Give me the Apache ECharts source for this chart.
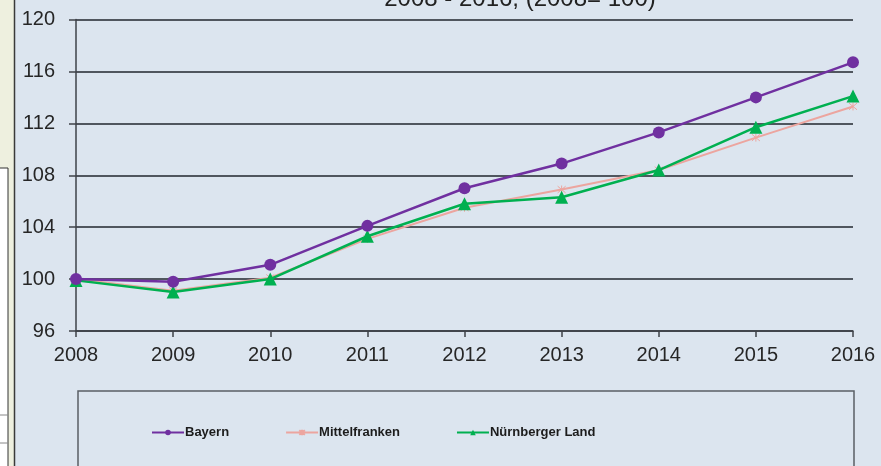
<!DOCTYPE html>
<html>
<head>
<meta charset="utf-8">
<script src="https://cdn.jsdelivr.net/npm/echarts@6/dist/echarts.min.js"></script>
<style>
html,body{margin:0;padding:0;background:#dce5ef;}
#c{width:881px;height:466px;}
</style>
</head>
<body>
<div id="c"></div>
<script>
const years = ['2008','2009','2010','2011','2012','2013','2014','2015','2016'];
const bayern = [100.0, 99.8, 101.1, 104.1, 107.0, 108.9, 111.3, 114.0, 116.7];
const mittelfranken = [100.0, 99.1, 100.1, 103.1, 105.5, 106.9, 108.4, 110.9, 113.3];
const nuernbergerLand = [99.9, 99.0, 100.0, 103.3, 105.8, 106.3, 108.4, 111.7, 114.1];
const yTicks = {min: 96, max: 120, interval: 4};
const titleText = '2008 - 2016, (2008= 100)';

const chart = echarts.init(document.getElementById('c'));
const font = "'Liberation Sans', Arial, sans-serif";
const asterisk = 'path://M0,0L10,10M10,0L0,10M5,-1L5,11';

chart.setOption({
  backgroundColor: '#dce5ef',
  animation: false,
  grid: {left: 76, right: 28, top: 19.5, bottom: 135, containLabel: false},
  graphic: [
    {type: 'rect', shape: {x: 0, y: 0, width: 15, height: 466}, style: {fill: '#eef0df'}, z: 0},
    {type: 'rect', shape: {x: -2, y: 168, width: 10, height: 300}, style: {fill: '#ffffff', stroke: '#333', lineWidth: 1}, z: 1},
    {type: 'line', shape: {x1: -2, y1: 415, x2: 8, y2: 415}, style: {stroke: '#888', lineWidth: 1}, z: 1},
    {type: 'line', shape: {x1: 0, y1: 443, x2: 8, y2: 443}, style: {stroke: '#888', lineWidth: 1}, z: 1},
    {type: 'line', shape: {x1: 14.5, y1: 0, x2: 14.5, y2: 466}, style: {stroke: '#3a3a3a', lineWidth: 1.5}, z: 1},
    {type: 'rect', shape: {x: 78, y: 391, width: 776, height: 120}, style: {fill: 'none', stroke: '#5a5f66', lineWidth: 1.5}, z: 1},
    {type: 'text', x: 520, y: -1, style: {text: titleText, fill: '#222', font: '24px ' + font, align: 'center', verticalAlign: 'middle'}, z: 5}
  ],
  legend: {
    left: 146, top: 421,
    itemGap: 56, itemWidth: 32, itemHeight: 7,
    textStyle: {fontFamily: font, fontSize: 13, fontWeight: 'bold', color: '#1c1c1c', padding: [0,0,0,-4]},
    data: ['Bayern', 'Mittelfranken', 'Nürnberger Land']
  },
  xAxis: {
    type: 'category', data: years, boundaryGap: false,
    axisLine: {lineStyle: {color: '#3e4248', width: 1.5}},
    axisTick: {show: true, length: 6, lineStyle: {color: '#3e4248', width: 1.5}},
    axisLabel: {fontFamily: font, fontSize: 20, color: '#262626', margin: 14},
    splitLine: {show: false}
  },
  yAxis: {
    type: 'value', min: yTicks.min, max: yTicks.max, interval: yTicks.interval,
    axisLine: {show: true, lineStyle: {color: '#3e4248', width: 1.5}},
    axisTick: {show: true, length: 7, lineStyle: {color: '#3e4248', width: 1.5}},
    axisLabel: {fontFamily: font, fontSize: 20, color: '#262626', margin: 21},
    splitLine: {show: true, lineStyle: {color: '#50565e', width: 2}}
  },
  series: [
    {name: 'Bayern', type: 'line', data: bayern, symbol: 'circle', symbolSize: 12,
     lineStyle: {color: '#7030a0', width: 2.5}, itemStyle: {color: '#7030a0'}, z: 4},
    {name: 'Mittelfranken', type: 'line', data: mittelfranken, symbol: asterisk, symbolSize: 8,
     lineStyle: {color: '#eca59f', width: 2}, itemStyle: {color: 'none', borderColor: '#eca59f', borderWidth: 1}, z: 2},
    {name: 'Nürnberger Land', type: 'line', data: nuernbergerLand, symbol: 'triangle', symbolSize: 13,
     lineStyle: {color: '#00b050', width: 2.5}, itemStyle: {color: '#00b050'}, z: 3}
  ]
});
</script>
</body>
</html>
